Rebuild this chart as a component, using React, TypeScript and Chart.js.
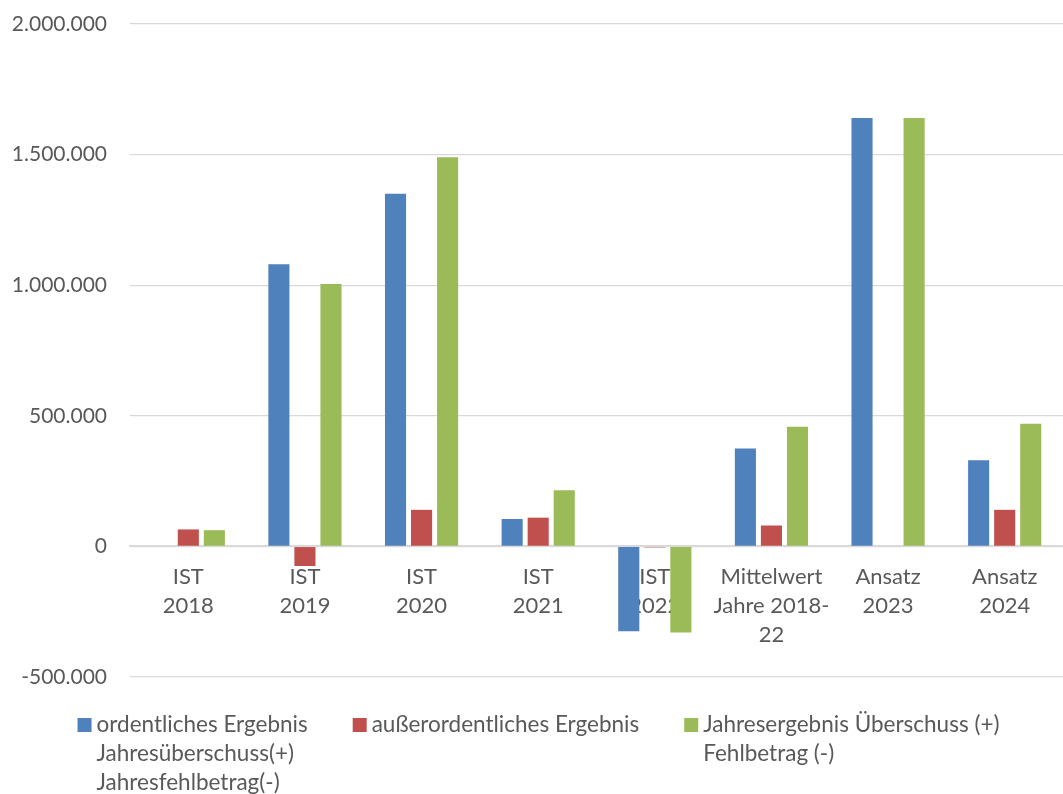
import React, { useEffect, useRef } from 'react';
import { Chart, registerables } from 'chart.js';

Chart.register(...registerables);

const categories: string[][] = [
  ['IST', '2018'],
  ['IST', '2019'],
  ['IST', '2020'],
  ['IST', '2021'],
  ['IST', '2022'],
  ['Mittelwert', 'Jahre 2018-', '22'],
  ['Ansatz', '2023'],
  ['Ansatz', '2024'],
];

const ordentlichesErgebnis = [0, 1080000, 1350000, 105000, -325000, 375000, 1640000, 330000];
const ausserordentlichesErgebnis = [65000, -75000, 140000, 110000, -4000, 80000, 0, 140000];
const jahresergebnis = [62000, 1005000, 1490000, 215000, -330000, 458000, 1640000, 470000];

const seriesNames: string[][] = [
  ['ordentliches Ergebnis', 'Jahresüberschuss(+)', 'Jahresfehlbetrag(-)'],
  ['außerordentliches Ergebnis'],
  ['Jahresergebnis Überschuss (+)', 'Fehlbetrag (-)'],
];

const yTicks = { min: -500000, max: 2000000, step: 500000 };

const colors = ['#4F81BD', '#C0504D', '#9BBB59'];

const textColor = '#595959';
const fontFamily = 'Lato, "Open Sans", sans-serif';

function formatDE(v: number): string {
  const neg = v < 0;
  const s = Math.abs(Math.round(v)).toString().replace(/\B(?=(\d{3})+(?!\d))/g, '.');
  return (neg ? '-' : '') + s;
}

const multiLineLegend = {
  id: 'multiLineLegend',
  afterDraw(chart: any) {
    const ctx = chart.ctx as CanvasRenderingContext2D;
    const datasets = chart.data.datasets;
    ctx.save();
    ctx.font = `22.5px ${fontFamily}`;
    ctx.textBaseline = 'middle';
    ctx.textAlign = 'left';
    const box = 14;
    const gap = 5;
    const itemGap = 45;
    const lineH = 29;
    const widths = seriesNames.map((lines) => Math.max(...lines.map((l) => ctx.measureText(l).width)));
    const total = widths.reduce((a, w) => a + box + gap + w, 0) + itemGap * (widths.length - 1);
    let x = (chart.width - total) / 2 + 7;
    const y0 = chart.chartArea.bottom + 47;
    seriesNames.forEach((lines, i) => {
      ctx.fillStyle = datasets[i].backgroundColor as string;
      ctx.fillRect(x, y0 - 6, box, box);
      ctx.fillStyle = textColor;
      lines.forEach((l, j) => {
        ctx.fillText(l, x + box + gap, y0 + 1 + j * lineH);
      });
      x += box + gap + widths[i] + itemGap;
    });
    ctx.restore();
  },
};

export default function App() {
  const ref = useRef<HTMLCanvasElement | null>(null);

  useEffect(() => {
    document.body.style.margin = '0';
    if (!ref.current) return;
    const chart = new Chart(ref.current, {
      type: 'bar',
      data: {
        labels: categories,
        datasets: [
          { label: seriesNames[0].join(' '), data: ordentlichesErgebnis, backgroundColor: colors[0] },
          { label: seriesNames[1].join(' '), data: ausserordentlichesErgebnis, backgroundColor: colors[1] },
          { label: seriesNames[2].join(' '), data: jahresergebnis, backgroundColor: colors[2] },
        ],
      },
      plugins: [multiLineLegend],
      options: {
        animation: false,
        responsive: true,
        maintainAspectRatio: false,
        layout: { padding: { top: 24, right: 0, left: 0, bottom: 117 } },
        datasets: {
          bar: { categoryPercentage: 0.67, barPercentage: 0.81 },
        },
        plugins: {
          tooltip: { enabled: false },
          legend: { display: false },
        },
        scales: {
          x: {
            position: { y: 0 } as any,
            grid: { display: false, drawTicks: false },
            border: { display: true, color: '#d9d9d9', width: 2 },
            ticks: {
              color: textColor,
              font: { family: fontFamily, size: 22, lineHeight: 1.32 },
              padding: 16,
              maxRotation: 0,
              autoSkip: false,
            },
          },
          y: {
            min: yTicks.min,
            max: yTicks.max,
            grid: { color: '#d9d9d9', lineWidth: 1.3, drawTicks: false },
            border: { display: false },
            ticks: {
              stepSize: yTicks.step,
              color: textColor,
              font: { family: fontFamily, size: 21 },
              padding: 23,
              callback: (v: any) => formatDE(Number(v)),
            },
            afterFit: (scale: any) => {
              scale.width = 130;
              scale.paddingTop = 0;
              scale.paddingBottom = 0;
            },
          },
        },
      },
    });
    return () => chart.destroy();
  }, []);

  return (
    <div style={{ position: 'fixed', left: 0, top: 0, width: 1063, height: 794 }}>
      <canvas ref={ref} />
    </div>
  );
}
